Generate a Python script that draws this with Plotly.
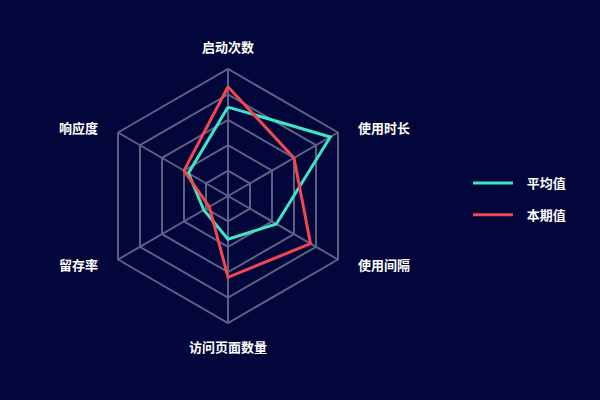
import math
import plotly.graph_objects as go

# radar axes, clockwise from the top
categories = ['启动次数', '使用时长', '使用间隔', '访问页面数量', '留存率', '响应度']

avg_values = [70, 93, 44, 34, 22, 36]   # 平均值
cur_values = [86, 60, 75, 64, 17, 40]   # 本期值

bg = '#03063a'
grid = '#5b6283'

W, H = 600, 400
cx, cy, R = 228, 196, 127   # polar centre / outer radius in pixels

fig = go.Figure()

fig.add_trace(go.Scatterpolar(
    r=avg_values + avg_values[:1],
    theta=categories + categories[:1],
    mode='lines',
    name='\u00a0\u00a0\u00a0平均值',
    legendgroup='a',
    line=dict(color='#3ee6c4', width=3),
))
fig.add_trace(go.Scatterpolar(
    r=cur_values + cur_values[:1],
    theta=categories + categories[:1],
    mode='lines',
    name='\u00a0\u00a0\u00a0本期值',
    legendgroup='b',
    line=dict(color='#f2474e', width=3),
))

# axis names placed just outside each vertex
annotations = []
n = len(categories)
for i, name in enumerate(categories):
    a = math.radians(360 / n * i)
    sx, sy = math.sin(a), math.cos(a)
    vx = (cx + R * sx) / W
    vy = (H - (cy - R * sy)) / H
    if abs(sx) < 0.01:
        xa, xs, ys = 'center', 0, 23 * (1 if sy > 0 else -1)
    else:
        xa = 'left' if sx > 0 else 'right'
        xs = 18 * (1 if sx > 0 else -1)
        ys = 5 * (1 if sy > 0 else -1)
    annotations.append(dict(
        x=vx, y=vy, xref='paper', yref='paper', text=name, showarrow=False,
        xanchor=xa, yanchor='middle', xshift=xs, yshift=ys,
        font=dict(size=13, color='white', weight='bold'),
    ))

fig.update_layout(
    width=W, height=H,
    margin=dict(l=0, r=0, t=0, b=0),
    paper_bgcolor=bg,
    plot_bgcolor=bg,
    font=dict(family='Noto Sans CJK SC', color='white', size=13),
    polar=dict(
        bgcolor=bg,
        gridshape='linear',
        domain=dict(x=[(cx - R) / W, (cx + R) / W],
                    y=[(H - cy - R) / H, (H - cy + R) / H]),
        radialaxis=dict(
            range=[0, 100], dtick=20, showticklabels=False, ticks='',
            showline=False, gridcolor=grid, gridwidth=2,
        ),
        angularaxis=dict(
            rotation=90, direction='clockwise',
            showline=True, linecolor=grid, linewidth=2,
            gridcolor=grid, gridwidth=2,
            showticklabels=False, ticks='',
        ),
    ),
    annotations=annotations,
    legend=dict(
        x=0.78, y=0.58, xanchor='left', yanchor='top',
        bgcolor='rgba(0,0,0,0)',
        font=dict(size=13, color='white', weight='bold'),
        tracegroupgap=12,
        itemwidth=40,
    ),
)

fig.write_html('out.html', config={'displayModeBar': False},
               post_script="document.body.style.margin='0';")
